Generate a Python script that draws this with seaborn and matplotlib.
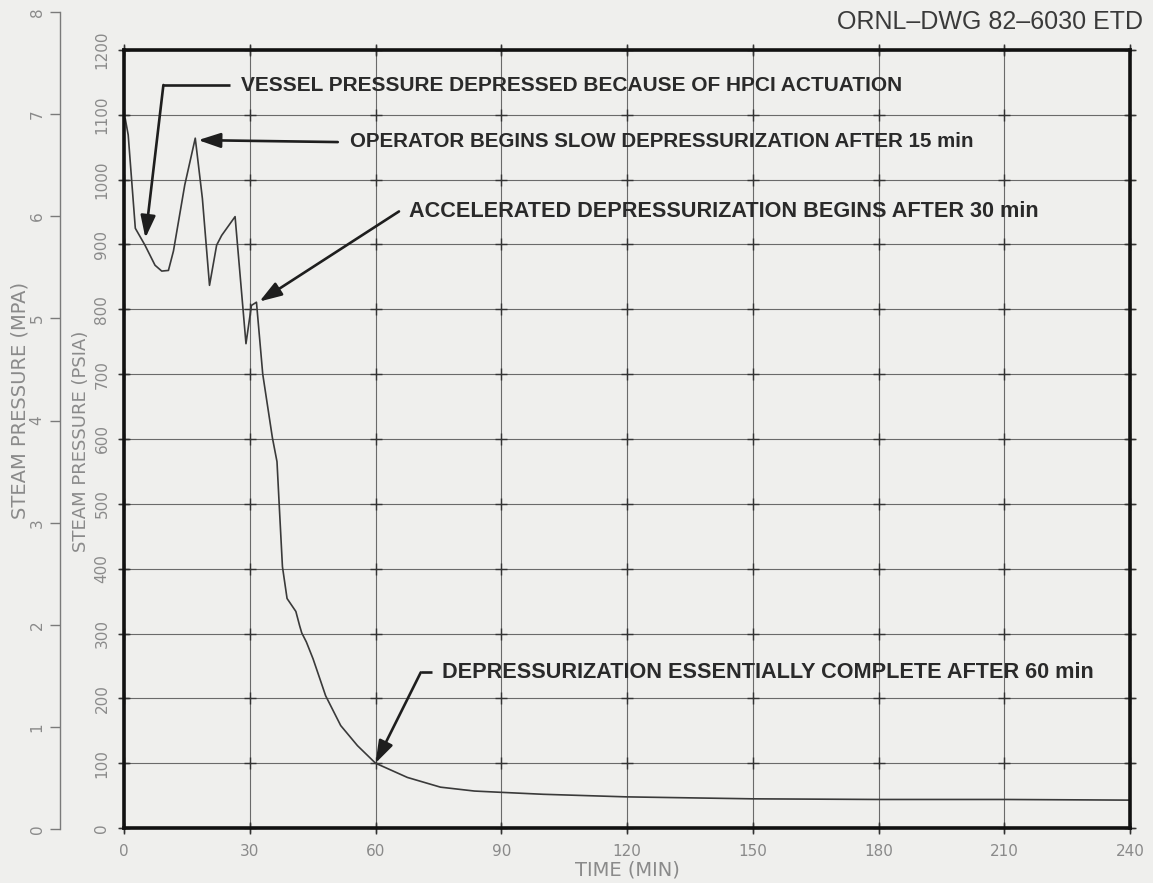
import matplotlib
matplotlib.use("Agg")
import matplotlib.pyplot as plt
import seaborn as sns
import numpy as np
import pandas as pd

# Reactor vessel steam pressure transient
time_min = [0, 0.3, 1.0, 2.7, 5.0, 7.4, 9.0, 10.6, 11.8, 14.5, 17.0, 18.7, 20.4,
            22.1, 23.3, 26.5, 29.1, 30.4, 31.6, 33.1, 35.4, 36.5, 37.0, 37.8,
            38.9, 41.0, 41.9, 42.4, 43.5, 45.1, 47.0, 48.1, 51.7, 55.7, 60.0,
            67.6, 75.5, 83.6, 90, 100, 120, 150, 180, 210, 240]
pressure_psia = [1090, 1094, 1069, 925, 899, 868, 859, 860, 890, 992, 1064, 971, 837,
                 899, 914, 943, 747, 806, 811, 700, 602, 565, 502, 403,
                 354, 334, 312, 301, 287, 261, 225, 204, 158, 127, 100,
                 78, 63, 57, 55, 52, 48, 45, 44, 44, 43]

x_ticks = [0, 30, 60, 90, 120, 150, 180, 210, 240]
psia_ticks = list(range(0, 1201, 100))
mpa_ticks = list(range(0, 9))

notes = [
    "VESSEL PRESSURE DEPRESSED BECAUSE OF HPCI ACTUATION",
    "OPERATOR BEGINS SLOW DEPRESSURIZATION AFTER 15 min",
    "ACCELERATED DEPRESSURIZATION BEGINS AFTER 30 min",
    "DEPRESSURIZATION ESSENTIALLY COMPLETE AFTER 60 min",
]
# (text x, text y, arrow tail x, arrow tail y, tip x, tip y, elbow start x)
note_geom = [
    (27.8, 1146, 9.4, 1146, 5.1, 910, 25.4),
    (53.9, 1059, 51.0, 1058, 17.7, 1061, None),
    (68.0, 951, 65.6, 951, 32.3, 812, None),
    (75.8, 240, 70.8, 240, 60.0, 100, 73.4),
]
note_sizes = [15, 14.8, 15.6, 15.6]

sns.set_theme(style="white")
plt.rcParams["font.family"] = ["DejaVu Sans"]

bg = "#efefed"
tick_col = "#8a8a8a"
fig = plt.figure(figsize=(11.53, 8.83), dpi=100, facecolor=bg)

ax = fig.add_axes([124 / 1153, 1 - 828 / 883, 1006 / 1153, 778 / 883])
ax.set_facecolor(bg)

df = pd.DataFrame({"t": time_min, "p": pressure_psia})
sns.lineplot(data=df, x="t", y="p", ax=ax, color="#3a3a3a", linewidth=1.2, zorder=4)

ax.set_xlim(0, 240)
ax.set_ylim(0, 1200)
ax.set_xticks(x_ticks)
ax.set_yticks(psia_ticks)
ax.set_xticklabels([str(v) for v in x_ticks])
ax.set_yticklabels([str(v) for v in psia_ticks])
ax.set_xlabel("")
ax.set_ylabel("")
ax.grid(True, color="#6a6a6a", linewidth=0.8)

# Small crosses marking each grid intersection
gx, gy = np.meshgrid(x_ticks, psia_ticks)
ax.plot(gx.ravel(), gy.ravel(), linestyle="none", marker="+", markersize=9,
        markeredgewidth=1.0, color="#333333", zorder=3, clip_on=False)

for s in ax.spines.values():
    s.set_visible(True)
    s.set_color("#111111")
    s.set_linewidth(2.6)
    s.set_zorder(5)
ax.tick_params(axis="both", which="major", direction="inout", length=7, width=1,
               color="#333333", labelcolor=tick_col, labelsize=11,
               bottom=True, top=True, left=True, right=True,
               labeltop=False, labelright=False)
ax.tick_params(axis="x", pad=8)
ax.tick_params(axis="y", pad=7, labelrotation=90)
for lbl in ax.get_yticklabels():
    lbl.set_va("center")

# Secondary pressure scale in MPa
ax2 = fig.add_axes([60 / 1153, 1 - 829 / 883, 0.0005, 817 / 883])
ax2.set_facecolor("none")
ax2.set_ylim(0, 8)
ax2.set_yticks(mpa_ticks)
ax2.set_yticklabels([str(v) for v in mpa_ticks])
ax2.set_xticks([])
for k in ["top", "right", "bottom"]:
    ax2.spines[k].set_visible(False)
ax2.spines["left"].set_color("#7a7a7a")
ax2.spines["left"].set_linewidth(1.0)
ax2.tick_params(axis="y", left=True, direction="out", length=7, width=1,
                color="#7a7a7a", labelcolor=tick_col, labelsize=11, pad=4,
                labelrotation=90)
for lbl in ax2.get_yticklabels():
    lbl.set_va("center")

fig.text(20 / 1153, 1 - 400 / 883, "STEAM PRESSURE (MPA)", rotation=90,
         ha="center", va="center", color=tick_col, fontsize=14)
fig.text(81 / 1153, 1 - 441 / 883, "STEAM PRESSURE (PSIA)", rotation=90,
         ha="center", va="center", color=tick_col, fontsize=13)
fig.text(627 / 1153, 1 - 870 / 883, "TIME (MIN)", ha="center", va="center",
         color=tick_col, fontsize=14)
fig.text(1143 / 1153, 1 - 22 / 883, "ORNL\u2013DWG 82\u20136030 ETD", ha="right",
         va="center", color="#3a3a3a", fontsize=18, family="Liberation Sans")

arrow_col = "#1e1e1e"
for text, size, (tx, ty, ax0, ay0, px, py, ex) in zip(notes, note_sizes, note_geom):
    ax.text(tx, ty, text, ha="left", va="center", color="#2a2a2a", fontsize=size,
            fontweight="bold", family="Liberation Sans", zorder=6)
    if ex is not None:
        ax.plot([ex, ax0], [ay0, ay0], color=arrow_col, linewidth=1.9,
                solid_capstyle="butt", zorder=6)
    ax.annotate("", xy=(px, py), xytext=(ax0, ay0), zorder=6,
                arrowprops=dict(arrowstyle="-|>,head_length=0.9,head_width=0.3",
                                color=arrow_col, lw=1.9, mutation_scale=15,
                                shrinkA=0, shrinkB=0))

fig.savefig("out.png", dpi=100, facecolor=bg)
